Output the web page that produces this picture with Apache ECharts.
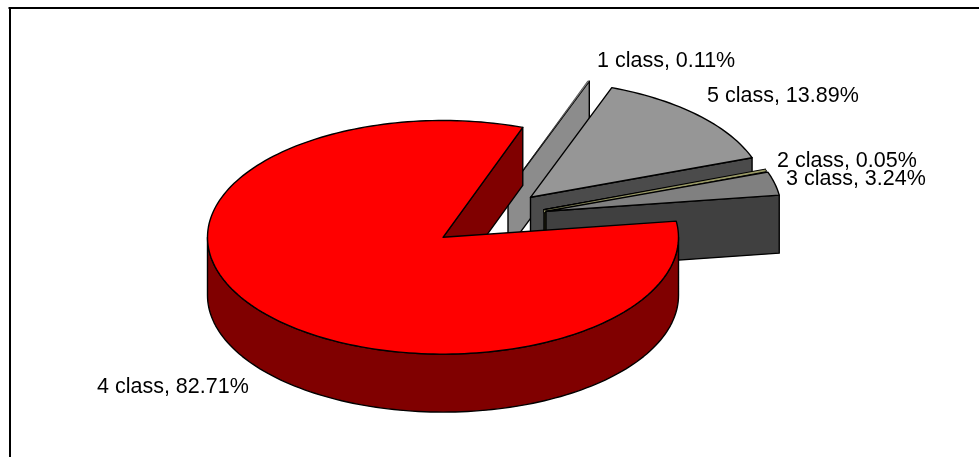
<!DOCTYPE html>
<html>
<head>
<meta charset="utf-8">
<style>html,body{margin:0;padding:0;background:#fff}#chart{width:979px;height:457px}</style>
<script src="https://cdn.jsdelivr.net/npm/echarts@6/dist/echarts.min.js"></script>
</head>
<body>
<div id="chart"></div>
<script>
// Data, clockwise from the pie's start angle
var classNames = ['1 class', '5 class', '2 class', '3 class', '4 class'];
var classShares = [0.11, 13.89, 0.05, 3.24, 82.71];

// Projection of the tilted pie
var CX = 443, CY = 237.3, RX = 235.5, RY = 116.8, DEPTH = 58, START_DEG = 19.8;
// Slice explosion on screen, by class name
var explode = {
  '1 class': [65, -46.5],
  '5 class': [87.5, -40],
  '2 class': [101, -27.5],
  '3 class': [103, -26],
  '4 class': [0, 0]
};
var topColor = {'1 class':'#8c8c8c','5 class':'#969696','2 class':'#999966','3 class':'#808080','4 class':'#ff0000'};
var wallColor = {'1 class':'#8c8c8c','5 class':'#4b4b4b','2 class':'#33331a','3 class':'#404040','4 class':'#800000'};
var labelPos = {
  '1 class': [597, 61],
  '5 class': [707, 96],
  '2 class': [777, 161.5],
  '3 class': [786, 179.5],
  '4 class': [97, 387.5]
};
var drawOrder = ['1 class', '5 class', '2 class', '3 class', '4 class'];

function slices() {
  var total = classShares.reduce(function (a, b) { return a + b; }, 0);
  var a = START_DEG, out = {};
  classNames.forEach(function (n, i) {
    var sweep = classShares[i] / total * 360;
    out[n] = {start: a, end: a + sweep, share: classShares[i]};
    a += sweep;
  });
  return out;
}
var sliceMap = slices();

function rim(name, deg, drop) {
  var o = explode[name], r = deg * Math.PI / 180;
  return [CX + o[0] + RX * Math.sin(r), CY + o[1] - RY * Math.cos(r) + (drop || 0)];
}
function arc(name, from, to, drop) {
  var pts = [], n = Math.max(2, Math.ceil(Math.abs(to - from) / 1.5));
  for (var i = 0; i <= n; i++) pts.push(rim(name, from + (to - from) * i / n, drop));
  return pts;
}
function apex(name, drop) {
  return [CX + explode[name][0], CY + explode[name][1] + (drop || 0)];
}
function poly(points, fill, strokeWidth) {
  return {type: 'polygon', shape: {points: points},
    style: {fill: fill, stroke: '#000', lineWidth: strokeWidth || 1.4, lineJoin: 'round'}};
}

function renderSlice(params, api) {
  var name = drawOrder[api.value(0)];
  var s = sliceMap[name], top = topColor[name], wall = wallColor[name];
  var kids = [];
  // wall on the slice's closing edge
  kids.push(poly([apex(name), rim(name, s.end), rim(name, s.end, DEPTH), apex(name, DEPTH)], wall));
  // outer wall: only the part of the rim facing the viewer
  var a0 = Math.max(s.start, 90), a1 = Math.min(s.end, 270);
  if (a1 > a0) {
    kids.push(poly(arc(name, a0, a1).concat(arc(name, a1, a0, DEPTH)), wall));
  }
  // top face
  var face = [apex(name)].concat(arc(name, s.start, s.end));
  kids.push(poly(face, top, name === '1 class' ? 0.5 : 1.4));
  if (name === '2 class') {
    // very thin slice: a black sliver with its colour showing through the middle
    var mid = (s.start + s.end) / 2;
    kids.push({type: 'line', shape: {x1: apex(name)[0] - 0.5, y1: apex(name)[1] + 1.5, x2: rim(name, mid)[0] + 0.5, y2: rim(name, mid)[1]},
      style: {stroke: '#000', lineWidth: 4}});
    kids.push({type: 'line', shape: {x1: apex(name)[0], y1: apex(name)[1] + 1.5, x2: rim(name, mid)[0], y2: rim(name, mid)[1]},
      style: {stroke: top, lineWidth: 1.8}});
  }
  return {type: 'group', children: kids};
}

function renderLabels(params, api) {
  var name = classNames[api.value(0)];
  var i = classNames.indexOf(name);
  return {type: 'text', style: {
    x: labelPos[name][0], y: labelPos[name][1],
    text: name + ', ' + classShares[i].toFixed(2) + '%',
    fill: '#000', font: '21.5px "Liberation Sans", Arial, sans-serif',
    textAlign: 'left', textVerticalAlign: 'middle'
  }};
}

var chart = echarts.init(document.getElementById('chart'), null, {renderer: 'canvas'});
chart.setOption({
  animation: false,
  backgroundColor: '#fff',
  tooltip: {show: false},
  graphic: [
    {type: 'line', shape: {x1: 8.5, y1: 8, x2: 979, y2: 8}, style: {stroke: '#000', lineWidth: 2}},
    {type: 'line', shape: {x1: 10, y1: 7, x2: 10, y2: 457}, style: {stroke: '#000', lineWidth: 2}}
  ],
  series: [
    {type: 'custom', coordinateSystem: 'none', silent: true, z: 2,
     data: drawOrder.map(function (n, i) { return [i]; }), renderItem: renderSlice},
    {type: 'custom', coordinateSystem: 'none', silent: true, z: 3,
     data: classNames.map(function (n, i) { return [i]; }), renderItem: renderLabels}
  ]
});
</script>
</body>
</html>
